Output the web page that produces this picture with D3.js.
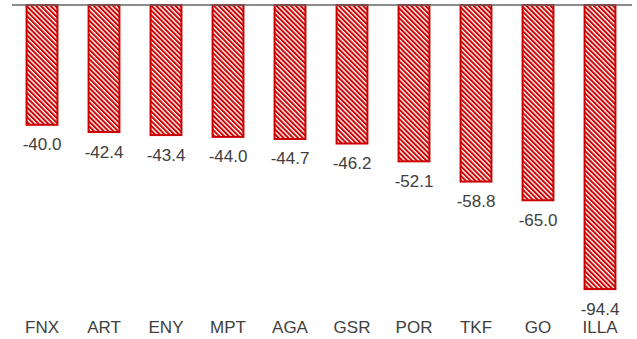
<!DOCTYPE html>
<html>
<head>
<meta charset="utf-8">
<script src="https://cdn.jsdelivr.net/npm/d3@7"></script>
<style>
  html, body { margin: 0; padding: 0; background: #fff; }
  svg { display: block; }
  text { font-family: "Liberation Sans", Arial, sans-serif; }
</style>
</head>
<body>
<svg id="chart" width="637" height="339"></svg>
<script>
const categories = ["FNX", "ART", "ENY", "MPT", "AGA", "GSR", "POR", "TKF", "GO", "ILLA"];
const values = [-40.0, -42.4, -43.4, -44.0, -44.7, -46.2, -52.1, -58.8, -65.0, -94.4];

const width = 637, height = 339;
const svg = d3.select("#chart");

const x = d3.scaleBand()
  .domain(categories)
  .range([11, 631])
  .paddingInner(0.47)
  .paddingOuter(0.235);

const y = d3.scaleLinear()
  .domain([0, -100])
  .range([5, 307]);

// diagonal hatch fill
const defs = svg.append("defs");
const pat = defs.append("pattern")
  .attr("id", "hatch")
  .attr("patternUnits", "userSpaceOnUse")
  .attr("width", 3.4)
  .attr("height", 3.4)
  .attr("patternTransform", "rotate(-45)");
pat.append("rect").attr("width", 3.4).attr("height", 3.4).attr("fill", "#ffffff");
pat.append("rect").attr("width", 2.0).attr("height", 3.4).attr("fill", "#cc0000");

const data = categories.map((c, i) => ({ c, v: values[i] }));

svg.append("g")
  .selectAll("rect")
  .data(data)
  .join("rect")
  .attr("x", d => x(d.c) + 1)
  .attr("y", y(0))
  .attr("width", x.bandwidth() - 2)
  .attr("height", d => y(d.v) - y(0) - 1)
  .attr("fill", "url(#hatch)")
  .attr("stroke", "#cc0000")
  .attr("stroke-width", 2);

// zero line
svg.append("line")
  .attr("x1", x.range()[0] + 1)
  .attr("x2", x.range()[1] + 1)
  .attr("y1", y(0))
  .attr("y2", y(0))
  .attr("stroke", "#666666")
  .attr("stroke-width", 1.5);

// value labels
svg.append("g")
  .selectAll("text")
  .data(data)
  .join("text")
  .attr("x", d => x(d.c) + x.bandwidth() / 2)
  .attr("y", d => y(d.v) + 24.5)
  .attr("text-anchor", "middle")
  .attr("font-size", 17)
  .attr("fill", "#404040")
  .text(d => d.v.toFixed(1));

// category labels
const axis = d3.axisBottom(x).tickSize(0).tickPadding(0);
const gx = svg.append("g")
  .attr("transform", "translate(0,321)")
  .call(axis);
gx.select(".domain").remove();
gx.selectAll("text")
  .attr("font-size", 17)
  .attr("fill", "#404040")
  .attr("font-family", "Liberation Sans, Arial, sans-serif")
  .attr("dy", "0.71em");
</script>
</body>
</html>
